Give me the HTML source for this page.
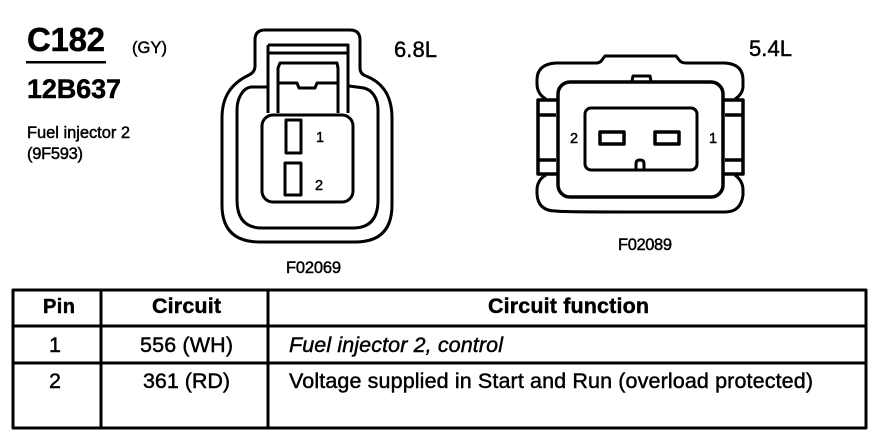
<!DOCTYPE html>
<html><head><meta charset="utf-8"><style>
html,body{margin:0;padding:0;background:#fff}
svg{display:block}
text{font-family:"Liberation Sans",sans-serif;fill:#000;stroke:#000;stroke-width:.45}
</style></head><body>
<svg width="890" height="448" viewBox="0 0 890 448" xmlns="http://www.w3.org/2000/svg">
<rect width="890" height="448" fill="#fff"/>
<!-- header -->
<text x="27" y="51" font-size="33" font-weight="bold" textLength="78">C182</text>
<rect x="26" y="61" width="80" height="2.5" fill="#000"/>
<text x="132" y="53" font-size="16.500" textLength="35">(GY)</text>
<text x="27" y="98" font-size="27" font-weight="bold" textLength="94">12B637</text>
<text x="27" y="138" font-size="16.500" textLength="103">Fuel injector 2</text>
<text x="27" y="159" font-size="16.500" textLength="56">(9F593)</text>
<text x="394" y="57" font-size="22" textLength="43">6.8L</text>
<text x="749" y="56" font-size="22" textLength="43">5.4L</text>
<text x="286" y="273" font-size="16.500" textLength="55">F02069</text>
<text x="618" y="250" font-size="16.500" textLength="54">F02089</text>

<g fill="none" stroke="#000" stroke-width="3" stroke-linejoin="round">
<!-- 6.8L connector -->
<path d="M265 30H350Q360 30 360 40V68Q360 74 366 76C384 83 392 98 392 118V205Q392 242 355 242H260Q222 242 222 205V118C222 98 230 84 249 75Q255 72 255 66V40Q255 30 265 30Z"/>
<path d="M267 87H251C243 88 237 98 237 110V200Q237 228 262 228H353Q378 228 378 200V110C378 98 372 90 364 88L349 86"/>
<path d="M268 45H348V113M268 45V113M268 53H348"/>
<path d="M278 113V68L280 63H337L338 68V113M278 83H297L299 88H315L317 83H338"/>
<rect x="262" y="115" width="91" height="87" rx="11" fill="#fff"/>
<rect x="286" y="120" width="15" height="33"/>
<rect x="285" y="163" width="16" height="32"/>
<!-- 5.4L connector -->
<path d="M546 99C540 96 537 90 537 84V80Q537 64 556 63H596Q600 63 602 60L605 56H676L680 61Q682 63 686 63H725Q743 64 743 80V86Q743 94 735 99"/>
<path d="M546 175C540 178 537 184 537 190V194Q538 211 556 211Q560 212 640 212H725Q741 212 743 195V190Q743 181 735 175"/>
<rect x="558" y="82" width="165" height="115" rx="12" stroke-width="3.5"/>
<path d="M632 81L633 76H650L651 81"/>
<rect x="585" y="108" width="112" height="62" rx="6"/>
<rect x="600" y="132" width="24" height="12" stroke-width="3.5"/>
<rect x="655" y="132" width="24" height="12" stroke-width="3.5"/>
<path d="M636 169V164Q636 160 640 160Q644 160 644 164V169"/>
<path d="M558 100H538V174H558M538 115H556M538 160H556" stroke-width="3.5"/>
<path d="M723 100H743V174H723M725 115H743M725 160H743" stroke-width="3.5"/>
<!-- table -->
<rect x="13" y="290" width="853" height="138" stroke-width="3"/>
<path d="M101 290V428M268 290V428M13 326H866M13 363H866" stroke-width="3"/>
</g>
<text x="316" y="142" font-size="14.500">1</text>
<text x="315" y="190" font-size="14.500">2</text>
<text x="570" y="143" font-size="14.500">2</text>
<text x="709" y="143" font-size="14.500">1</text>
<!-- table text -->
<g font-size="21.500">
<text x="43" y="313" font-weight="bold" font-size="20" textLength="32">Pin</text>
<text x="152" y="313" font-weight="bold" textLength="69">Circuit</text>
<text x="488" y="313" font-weight="bold" textLength="161">Circuit function</text>
<text x="55" y="352" text-anchor="middle">1</text>
<text x="140" y="352" textLength="93">556 (WH)</text>
<text x="289" y="352" font-style="italic" textLength="214">Fuel injector 2, control</text>
<text x="55" y="388" text-anchor="middle">2</text>
<text x="143" y="388" textLength="87">361 (RD)</text>
<text x="289" y="388" textLength="524">Voltage supplied in Start and Run (overload protected)</text>
</g>
</svg>
</body></html>
